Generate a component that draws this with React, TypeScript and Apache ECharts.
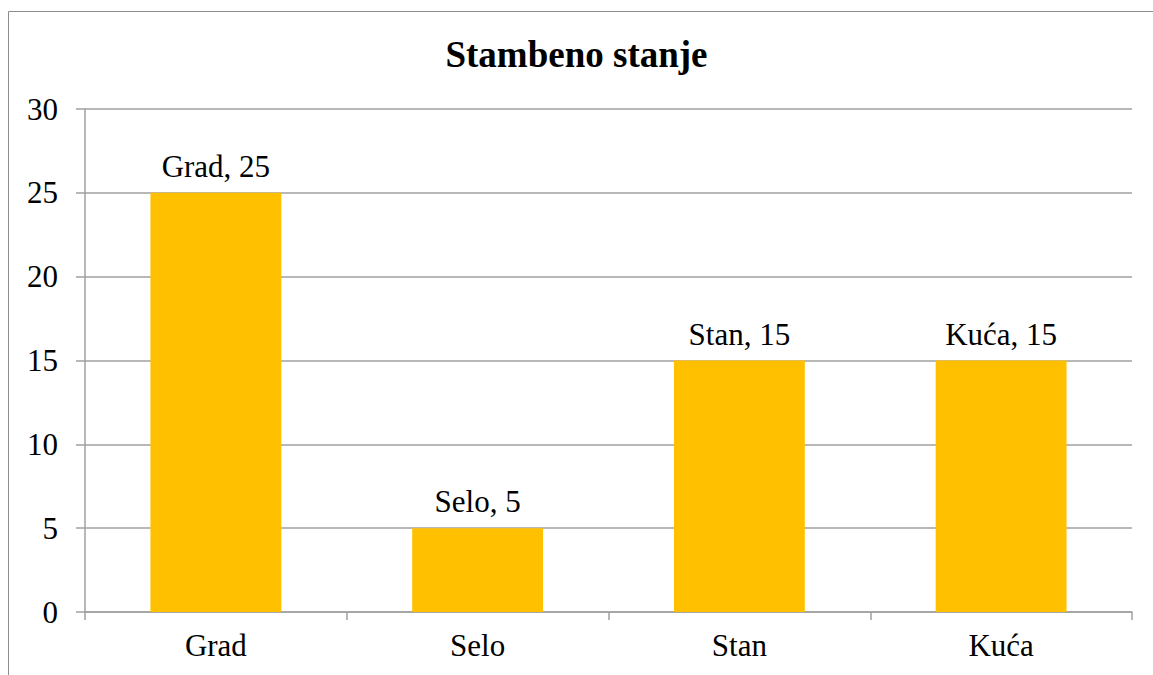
import React, { useEffect, useRef } from "react";
import * as echarts from "echarts";

const categories = ["Grad", "Selo", "Stan", "Kuća"];
const values = [25, 5, 15, 15];
const yTicks = [0, 5, 10, 15, 20, 25, 30];

const FONT = "Liberation Serif";

export default function App() {
  const ref = useRef<HTMLDivElement>(null);
  useEffect(() => {
    if (!ref.current) return;
    const chart = echarts.init(ref.current, undefined, { renderer: "svg" });
    chart.setOption({
      animation: false,
      backgroundColor: "#ffffff",
      textStyle: { fontFamily: FONT },
      title: {
        text: "Stambeno stanje",
        left: "center",
        top: 31,
        textStyle: { fontFamily: FONT, fontSize: 37, fontWeight: "bold", color: "#000" },
      },
      graphic: [
        {
          type: "rect",
          shape: { x: 8.5, y: 11.5, width: 1300, height: 800 },
          style: { fill: "none", stroke: "#8c8c8c", lineWidth: 1 },
          silent: true,
          z: -1,
        },
      ],
      grid: { left: 85, right: 21, top: 109, bottom: 63 },
      xAxis: {
        type: "category",
        data: categories,
        axisLine: { show: true, lineStyle: { color: "#a0a0a0", width: 1.5 } },
        axisTick: { show: true, length: 8, lineStyle: { color: "#a0a0a0", width: 1.5 } },
        axisLabel: { fontFamily: FONT, fontSize: 31, color: "#000", margin: 18 },
        splitLine: { show: false },
      },
      yAxis: {
        type: "value",
        min: yTicks[0],
        max: yTicks[yTicks.length - 1],
        interval: 5,
        axisLine: { show: true, lineStyle: { color: "#a0a0a0", width: 1.5 } },
        axisTick: { show: true, length: 9, lineStyle: { color: "#a0a0a0", width: 1.5 } },
        axisLabel: { fontFamily: FONT, fontSize: 31, color: "#000", margin: 27 },
        splitLine: { show: true, lineStyle: { color: "#a0a0a0", width: 1.5 } },
      },
      series: [
        {
          type: "bar",
          data: values,
          barWidth: "50%",
          itemStyle: { color: "#FFC000" },
          label: {
            show: true,
            position: "top",
            distance: 11,
            fontFamily: FONT,
            fontSize: 31,
            color: "#000",
            formatter: (p: any) => `${p.name}, ${p.value}`,
          },
        },
      ],
    });
    return () => chart.dispose();
  }, []);
  return (
    <div
      ref={ref}
      style={{ position: "absolute", left: 0, top: 0, width: 1153, height: 675 }}
    />
  );
}
